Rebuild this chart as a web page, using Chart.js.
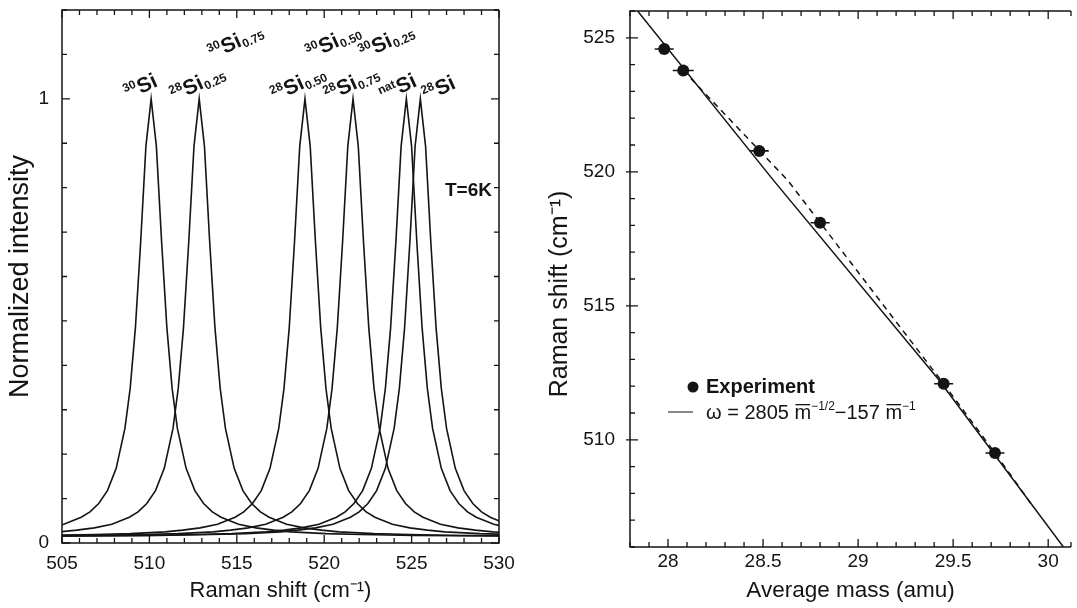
<!DOCTYPE html>
<html>
<head>
<meta charset="utf-8">
<script src="https://cdn.jsdelivr.net/npm/chart.js@4.4.0/dist/chart.umd.min.js"></script>
<style>
  html, body { margin: 0; background: #fff; }
  #wrap { position: relative; width: 1077px; height: 608px; overflow: hidden; }
  canvas { position: absolute; top: 0; }
  #spectra { left: 0; }
  #massPlot { left: 540px; }
</style>
</head>
<body>
<div id="wrap">
  <canvas id="spectra" width="540" height="608"></canvas>
  <canvas id="massPlot" width="537" height="608"></canvas>
</div>
<script>
// Left: normalized Raman spectra of the Si isotope samples at 6 K.
// Right: peak position against average isotopic mass.

const sampleIso = ["30", "28", "28", "28", "nat", "28"];
const sampleFrac = ["", "0.25", "0.50", "0.75", "", ""];
const partnerFrac = ["", "0.75", "0.50", "0.25", "", ""]; // 30Si share of the mixed crystals
const peakCenters = [510.1, 512.85, 518.9, 521.65, 524.7, 525.5];

// line shape common to all samples: offset from the peak (cm-1) and normalized intensity
const profileOffset = [-25, -20, -15, -12, -10, -8, -7, -6, -5, -4, -3.5, -3, -2.5, -2, -1.5, -1.2, -0.9, -0.6, -0.3,
  0, 0.3, 0.6, 0.9, 1.2, 1.5, 2, 2.5, 3, 3.5, 4, 5, 6, 7, 8, 10, 12, 15, 20, 25];
const profileIntensity = [0.015, 0.016, 0.017, 0.019, 0.021, 0.025, 0.029, 0.034, 0.042, 0.058, 0.070, 0.089, 0.118, 0.168, 0.258, 0.348, 0.485, 0.677, 0.893,
  1.000, 0.893, 0.677, 0.485, 0.348, 0.258, 0.168, 0.118, 0.089, 0.070, 0.058, 0.042, 0.034, 0.029, 0.025, 0.021, 0.019, 0.017, 0.016, 0.015];

const spectraXLabels = [505, 510, 515, 520, 525, 530];
const spectraYLabels = [0, 1];

const massExp = [27.98, 28.08, 28.48, 28.80, 29.45, 29.72];
const shiftExp = [524.58, 523.78, 520.78, 518.1, 512.09, 509.51];
const massErr = [0.05, 0.055, 0.05, 0.05, 0.05, 0.05];

const fitMass = [27.84, 28.555, 29.42, 30.08];
const fitShift = [526.0, 519.68, 512.28, 506.0];
const guideMass = [28.08, 28.63, 29.45, 29.72, 29.91];
const guideShift = [523.78, 519.68, 512.09, 509.51, 507.61];

const massXLabels = [28, 28.5, 29, 29.5, 30];
const massYLabels = [510, 515, 520, 525];

const ink = "#141414";
const family = "'Liberation Sans', Arial, Helvetica, sans-serif";
Chart.defaults.font.family = family;
Chart.defaults.color = ink;

function listed(list, v) {
  return list.some(t => Math.abs(t - v) < 1e-6);
}
function tickText(list) {
  return v => listed(list, v) ? String(Math.round(v * 10) / 10) : "";
}
// fixed axis boxes so the plot areas land where they should
function fixedWidth(w) {
  return s => { s.width = w; s.paddingTop = 0; s.paddingBottom = 0; };
}
function fixedHeight(h) {
  return s => { s.height = h; s.paddingLeft = 0; s.paddingRight = 0; };
}

// inward tick marks and the box around the plot area
const frameTicks = {
  id: "frameTicks",
  afterDraw(chart, args, opts) {
    const { ctx, chartArea: a } = chart;
    const x = chart.scales.x, y = chart.scales.y;
    ctx.save();
    ctx.strokeStyle = ink;
    ctx.lineWidth = 1.5;
    ctx.beginPath();
    ctx.moveTo(a.right, a.top);
    ctx.lineTo(a.left, a.top);
    ctx.lineTo(a.left, a.bottom);
    ctx.lineTo(a.right, a.bottom);
    if (opts.rightSide) ctx.lineTo(a.right, a.top);
    ctx.stroke();
    ctx.lineWidth = 1.3;
    ctx.beginPath();
    x.ticks.forEach(t => {
      const p = x.getPixelForValue(t.value);
      const len = t.label ? opts.major : opts.minor;
      ctx.moveTo(p, a.bottom); ctx.lineTo(p, a.bottom - len);
      ctx.moveTo(p, a.top); ctx.lineTo(p, a.top + len);
    });
    y.ticks.forEach(t => {
      const p = y.getPixelForValue(t.value);
      const len = t.label ? opts.major : opts.minor;
      ctx.moveTo(a.left - (t.label ? opts.outer : 0), p); ctx.lineTo(a.left + len, p);
      if (opts.rightSide) { ctx.moveTo(a.right, p); ctx.lineTo(a.right - len, p); }
    });
    ctx.stroke();
    ctx.restore();
  }
};

// isotope labels over the peaks, offsets in px from each peak top
const lowerShift = [[-23, 1], [-25, 3], [-30, 3], [-25, 3], [-23, 3], [6, 3]];
const upperShift = [null, [13, -39], [5, -39], [10, -39], null, null];
const labelTilt = 25 * Math.PI / 180;

function drawIsotope(ctx, px, py, iso, frac) {
  ctx.save();
  ctx.translate(px, py);
  ctx.rotate(-labelTilt);
  let u = 0;
  ctx.font = "bold 12px " + family;
  ctx.fillText(iso, u, -8);
  u += ctx.measureText(iso).width + 0.5;
  ctx.font = "bold 21px " + family;
  ctx.fillText("Si", u, 0);
  u += ctx.measureText("Si").width + 0.5;
  if (frac) {
    ctx.font = "bold 12px " + family;
    ctx.fillText(frac, u, 3);
  }
  ctx.restore();
}

const peakLabels = {
  id: "peakLabels",
  afterDatasetsDraw(chart) {
    const { ctx, chartArea: a, scales: { x, y } } = chart;
    ctx.save();
    ctx.fillStyle = ink;
    const top = y.getPixelForValue(1);
    peakCenters.forEach((c, i) => {
      const px = x.getPixelForValue(c);
      drawIsotope(ctx, px + lowerShift[i][0], top + lowerShift[i][1], sampleIso[i], sampleFrac[i]);
      if (upperShift[i]) {
        drawIsotope(ctx, px + upperShift[i][0], top + upperShift[i][1], "30", partnerFrac[i]);
      }
    });
    ctx.font = "bold 19px " + family;
    ctx.textAlign = "right";
    ctx.fillText("T=6K", a.right - 7, a.top + 186);
    ctx.restore();
  }
};

new Chart(document.getElementById("spectra"), {
  type: "scatter",
  data: {
    datasets: peakCenters.map(c => ({
      data: profileOffset.map((d, i) => ({ x: c + d, y: profileIntensity[i] })),
      showLine: true,
      borderColor: ink,
      borderWidth: 1.6,
      pointRadius: 0,
      tension: 0
    }))
  },
  options: {
    responsive: false,
    animation: false,
    events: [],
    layout: { padding: { top: 10, right: 41, left: 0, bottom: 0 } },
    plugins: {
      legend: { display: false },
      tooltip: { enabled: false },
      frameTicks: { major: 8, minor: 5, outer: 0, rightSide: true }
    },
    scales: {
      x: {
        type: "linear", min: 505, max: 530,
        afterFit: fixedHeight(65),
        grid: { display: false, drawTicks: false },
        border: { display: false },
        ticks: { stepSize: 1, autoSkip: false, maxRotation: 0, padding: 9, font: { size: 19 }, callback: tickText(spectraXLabels) },
        title: { display: true, text: "Raman shift (cm⁻¹)", font: { size: 22 }, padding: { top: 5 } }
      },
      y: {
        type: "linear", min: 0, max: 1.2,
        afterFit: fixedWidth(62),
        grid: { display: false, drawTicks: false },
        border: { display: false },
        ticks: { stepSize: 0.1, autoSkip: false, padding: 13, font: { size: 19 }, callback: tickText(spectraYLabels) },
        title: { display: true, text: "Normalized intensity", font: { size: 27 }, padding: { top: 4 } }
      }
    }
  },
  plugins: [frameTicks, peakLabels]
});

// horizontal error bars, the legend box and the vertical axis title of the mass plot
const massExtras = {
  id: "massExtras",
  afterDatasetsDraw(chart) {
    const { ctx, chartArea: a, scales: { x, y } } = chart;
    ctx.save();
    ctx.strokeStyle = ink;
    ctx.fillStyle = ink;
    ctx.lineWidth = 1.6;
    ctx.beginPath();
    massExp.forEach((m, i) => {
      const py = y.getPixelForValue(shiftExp[i]);
      ctx.moveTo(x.getPixelForValue(m - massErr[i]), py);
      ctx.lineTo(x.getPixelForValue(m + massErr[i]), py);
    });
    ctx.stroke();

    const x0 = a.left + 76;
    const row1 = a.top + 376, row2 = a.top + 401;
    ctx.beginPath();
    ctx.arc(a.left + 63, row1, 5.5, 0, Math.PI * 2);
    ctx.fill();
    ctx.font = "bold 20px " + family;
    ctx.textBaseline = "middle";
    ctx.fillText("Experiment", x0, row1);

    ctx.lineWidth = 1;
    ctx.beginPath();
    ctx.moveTo(a.left + 38, row2);
    ctx.lineTo(a.left + 63, row2);
    ctx.stroke();

    ctx.textBaseline = "alphabetic";
    const base = row2 + 7;
    const normal = "20px " + family, small = "12px " + family;
    let u = x0;
    const put = (txt, font, dy) => {
      ctx.font = font;
      ctx.fillText(txt, u, base + dy);
      const w = ctx.measureText(txt).width;
      u += w;
      return w;
    };
    const mBar = () => {
      const start = u;
      const w = put("m", normal, 0);
      ctx.fillRect(start + 1, base - 15, w - 2, 1.3);
    };
    put("ω = 2805 ", normal, 0);
    mBar();
    put("−1/2", small, -9);
    put("−157 ", normal, 0);
    mBar();
    put("−1", small, -9);

    // axis title, sitting a little below the middle of the axis
    ctx.save();
    ctx.translate(20, (a.top + a.bottom) / 2 + 15);
    ctx.rotate(-Math.PI / 2);
    ctx.font = "25px " + family;
    ctx.textAlign = "center";
    ctx.textBaseline = "middle";
    ctx.fillText("Raman shift (cm⁻¹)", 0, 0);
    ctx.restore();
    ctx.restore();
  }
};

new Chart(document.getElementById("massPlot"), {
  type: "scatter",
  data: {
    datasets: [
      {
        data: massExp.map((m, i) => ({ x: m, y: shiftExp[i] })),
        pointRadius: 6,
        pointBackgroundColor: ink,
        pointBorderWidth: 0,
        showLine: false
      },
      {
        data: fitMass.map((m, i) => ({ x: m, y: fitShift[i] })),
        showLine: true,
        borderColor: ink,
        borderWidth: 1.5,
        pointRadius: 0,
        tension: 0
      },
      {
        data: guideMass.map((m, i) => ({ x: m, y: guideShift[i] })),
        showLine: true,
        borderColor: ink,
        borderWidth: 1.5,
        borderDash: [6, 5],
        pointRadius: 0,
        tension: 0
      }
    ]
  },
  options: {
    responsive: false,
    animation: false,
    events: [],
    layout: { padding: { top: 11, right: 0, left: 0, bottom: 0 } },
    plugins: {
      legend: { display: false },
      tooltip: { enabled: false },
      frameTicks: { major: 8, minor: 5, outer: 4, rightSide: false }
    },
    scales: {
      x: {
        type: "linear", min: 27.8, max: 30.12,
        afterFit: fixedHeight(61),
        grid: { display: false, drawTicks: false },
        border: { display: false },
        ticks: { stepSize: 0.1, autoSkip: false, maxRotation: 0, padding: 3, font: { size: 19 }, callback: tickText(massXLabels) },
        title: { display: true, text: "Average mass (amu)", font: { size: 22.5 }, padding: { top: 8 } }
      },
      y: {
        type: "linear", min: 506, max: 526,
        afterFit: fixedWidth(90),
        grid: { display: false, drawTicks: false },
        border: { display: false },
        ticks: { stepSize: 1, autoSkip: false, padding: 15, font: { size: 19 }, callback: tickText(massYLabels) },
        title: { display: false }
      }
    }
  },
  plugins: [frameTicks, massExtras]
});
</script>
</body>
</html>
